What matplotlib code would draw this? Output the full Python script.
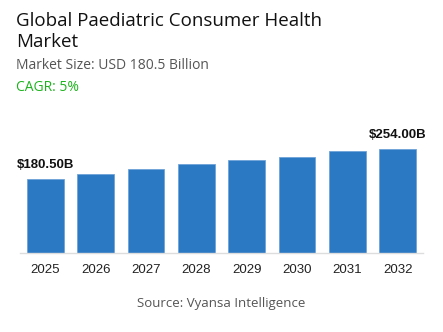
import matplotlib.pyplot as plt

years = ["2025", "2026", "2027", "2028", "2029", "2030", "2031", "2032"]
values = [180.5, 192.0, 205.0, 217.0, 226.0, 235.0, 248.0, 254.0]
labelled = {0: "$180.50B", 7: "$254.00B"}

fig = plt.figure(figsize=(4.43, 3.32), dpi=100)
ax = fig.add_axes([20 / 443, 1 - 253.3 / 332, 403 / 443, 150 / 332])

x = list(range(len(years)))
ax.bar(x, values, width=0.73, color="#2b78c3", edgecolor="#6fa3d8", linewidth=0.6)
ax.set_xlim(-0.5, 7.5)
ax.set_ylim(0, 254.0 * 150 / 104.5)

for i, txt in labelled.items():
    ax.annotate(txt, (i, values[i]), xytext=(0, 5.5), textcoords="offset points",
                ha="center", va="bottom", fontsize=9.5, fontweight="bold",
                family="Liberation Sans", color="#111111")

for s in ["top", "right", "left"]:
    ax.spines[s].set_visible(False)
ax.spines["bottom"].set_color("#dddddd")
ax.spines["bottom"].set_linewidth(1)
ax.set_yticks([])
ax.set_xticks(x)
ax.set_xticklabels(years, family="Liberation Sans", fontsize=9.5, color="#222222")
ax.tick_params(axis="x", length=0, pad=8)

# header lines, placed by baseline
fig.text(16 / 443, 1 - 26 / 332, "Global Paediatric Consumer Health",
         family="Open Sans", fontsize=13.5, color="#111111", va="baseline")
fig.text(16 / 443, 1 - 47 / 332, "Market",
         family="Open Sans", fontsize=13.5, color="#111111", va="baseline")
fig.text(16 / 443, 1 - 69 / 332, "Market Size: USD 180.5 Billion",
         family="Open Sans", fontsize=10, color="#555555", va="baseline")
fig.text(16 / 443, 1 - 90.5 / 332, "CAGR: 5%",
         family="Open Sans", fontsize=10, color="#1db31d", va="baseline")
fig.text(221 / 443, 1 - 306.5 / 332, "Source: Vyansa Intelligence",
         family="Open Sans", fontsize=9.5, color="#555555", ha="center", va="baseline")

fig.savefig("out.png", dpi=100)
